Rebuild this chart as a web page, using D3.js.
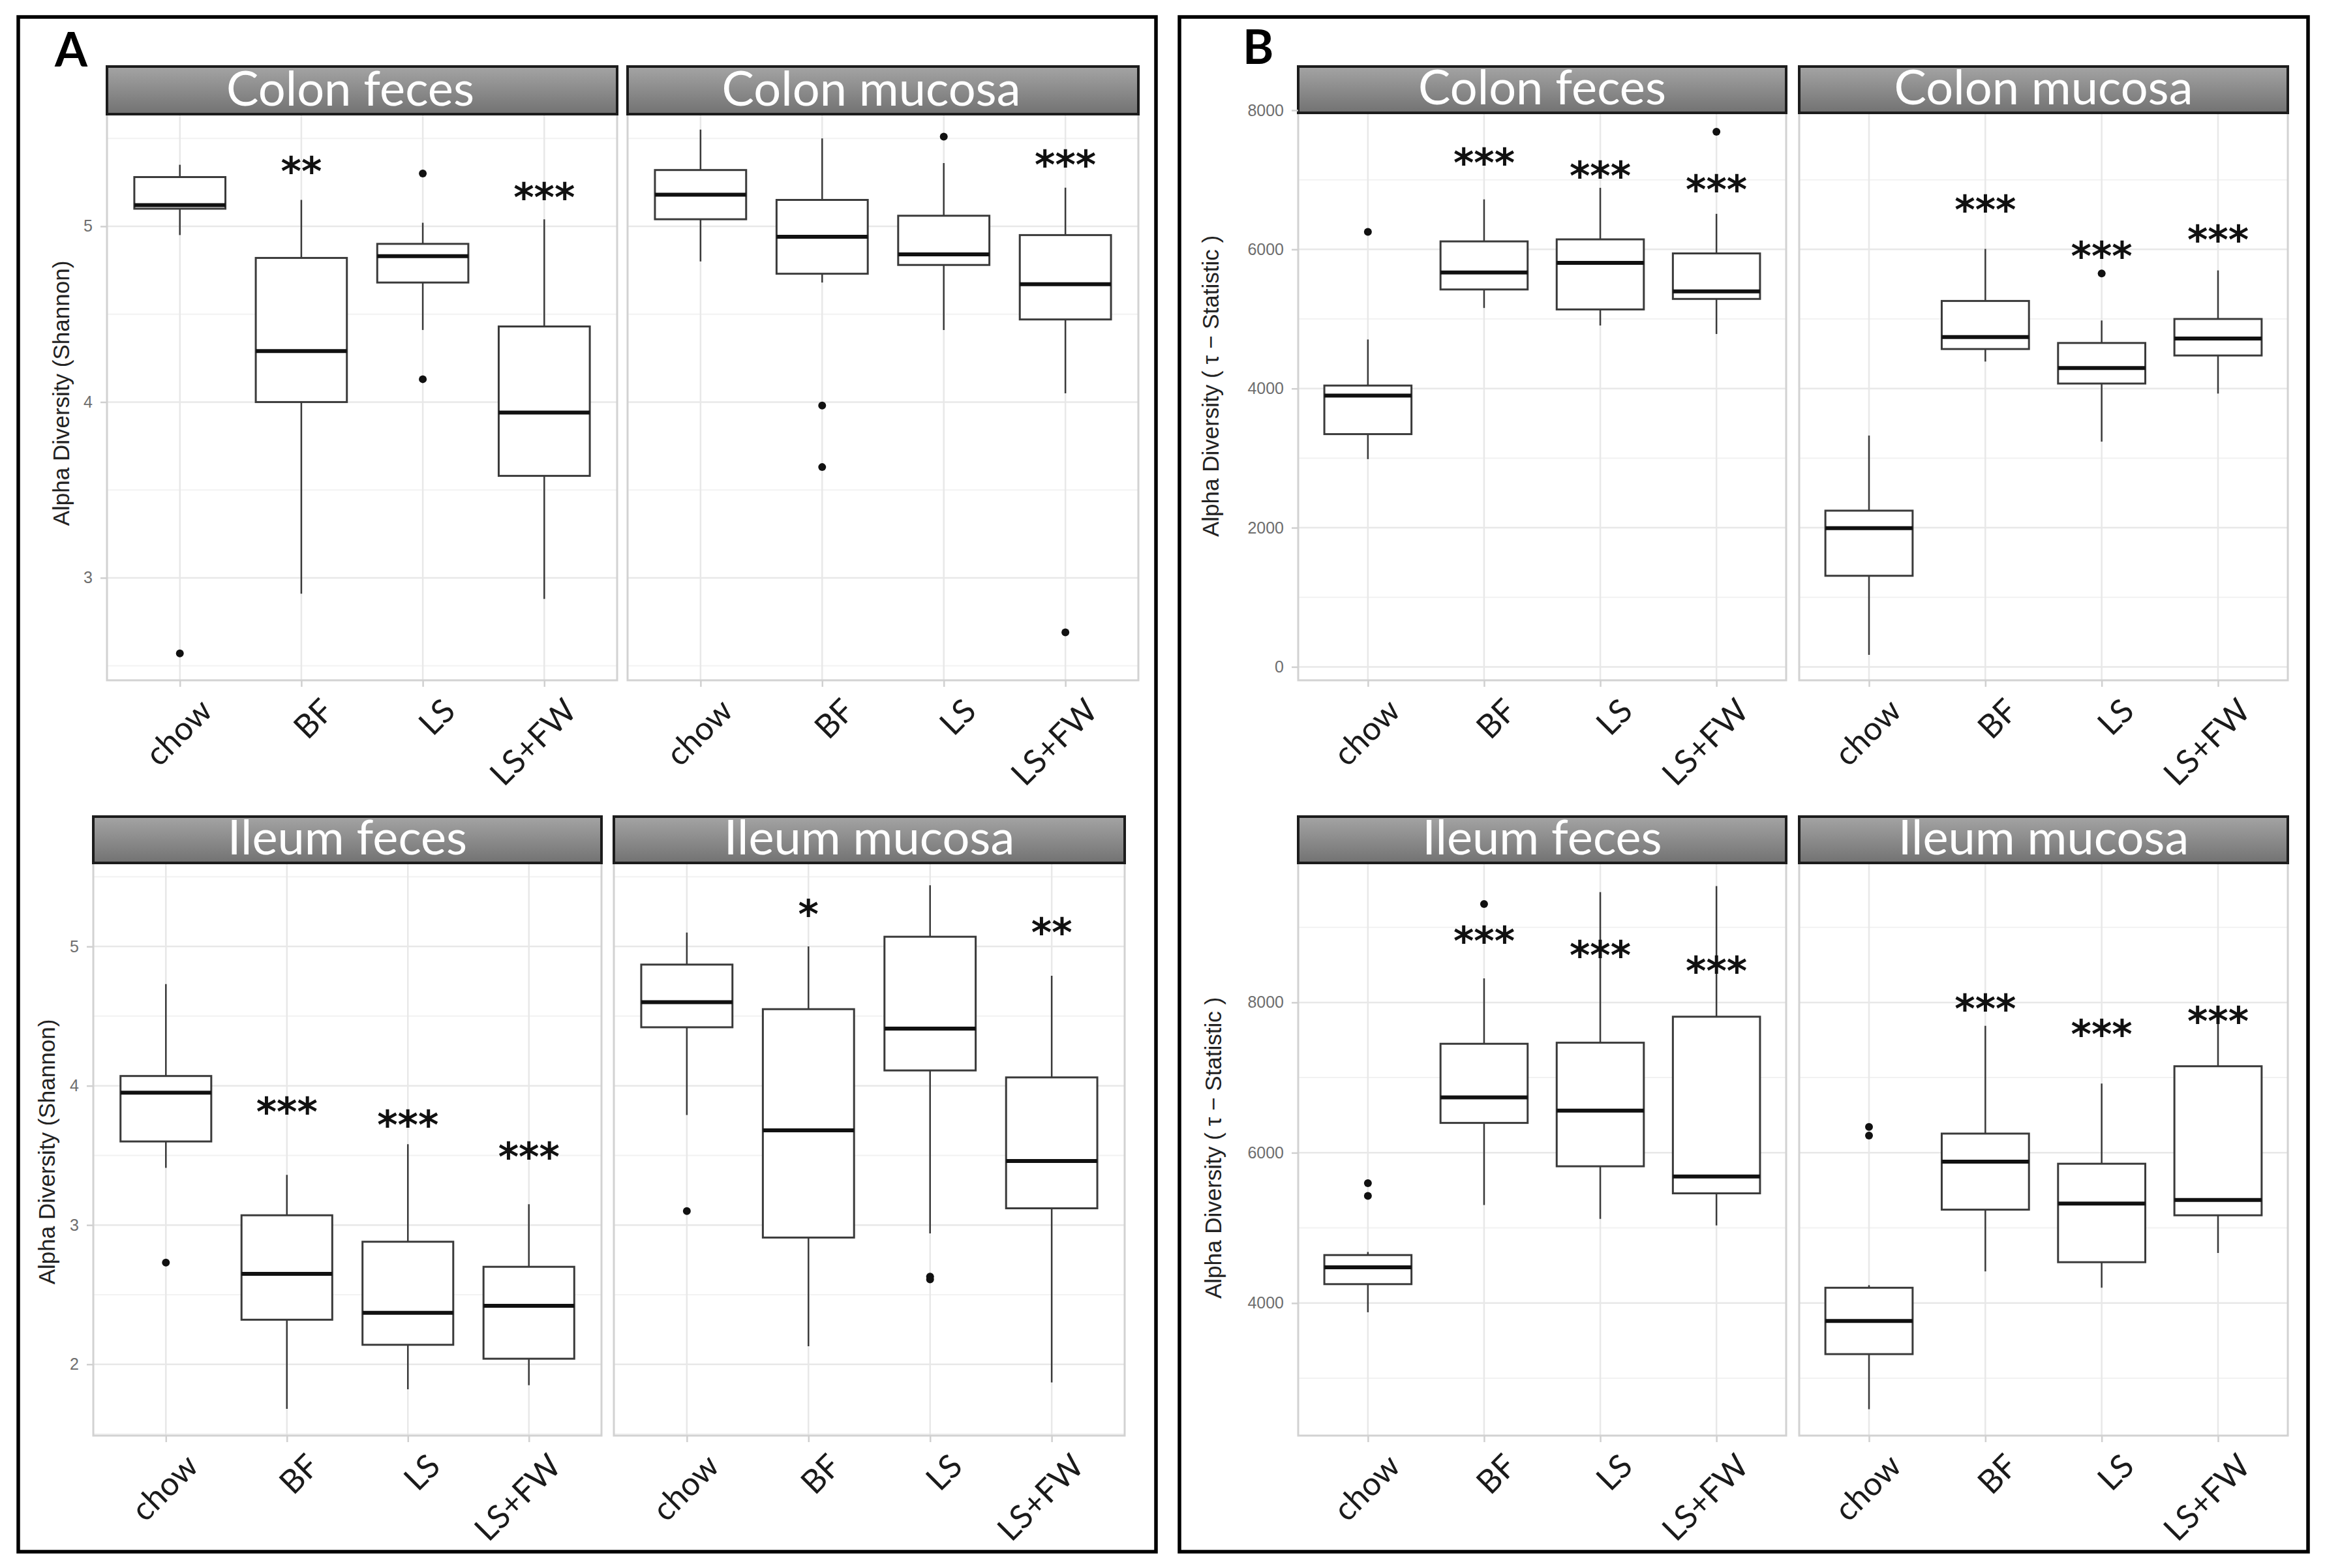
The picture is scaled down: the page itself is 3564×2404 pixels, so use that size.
<!DOCTYPE html>
<html>
<head>
<meta charset="utf-8">
<script src="https://cdn.jsdelivr.net/npm/d3@7"></script>
<style>
body { margin: 0; background: #fff; }
svg { display: block; }
</style>
</head>
<body>
<svg id="fig"></svg>
<script>
var groups = ["chow", "BF", "LS", "LS+FW"]

// boxes per group: [lower whisker, Q1, median, Q3, upper whisker]
// A: Shannon
var shColonFeces = [[4.95, 5.10, 5.12, 5.28, 5.35], [2.91, 4.00, 4.29, 4.82, 5.15], [4.41, 4.68, 4.83, 4.90, 5.02], [2.88, 3.58, 3.94, 4.43, 5.04]]
var shColonFecesOut = [[2.57], [], [5.30, 4.13], []]
var shColonFecesStars = ["", "**", "", "***"]
var shColonFecesStarAt = [null, 5.36, null, 5.21]

var shColonMucosa = [[4.80, 5.04, 5.18, 5.32, 5.55], [4.68, 4.73, 4.94, 5.15, 5.50], [4.41, 4.78, 4.84, 5.06, 5.36], [4.05, 4.47, 4.67, 4.95, 5.22]]
var shColonMucosaOut = [[], [3.98, 3.63], [5.51], [2.69]]
var shColonMucosaStars = ["", "", "", "***"]
var shColonMucosaStarAt = [null, null, null, 5.395]

var shIleumFeces = [[3.41, 3.60, 3.95, 4.07, 4.73], [1.68, 2.32, 2.65, 3.07, 3.36], [1.82, 2.14, 2.37, 2.88, 3.58], [1.85, 2.04, 2.42, 2.70, 3.15]]
var shIleumFecesOut = [[2.73], [], [], []]
var shIleumFecesStars = ["", "***", "***", "***"]
var shIleumFecesStarAt = [null, 3.87, 3.78, 3.55]

var shIleumMucosa = [[3.79, 4.42, 4.60, 4.87, 5.10], [2.13, 2.91, 3.68, 4.55, 5.00], [2.94, 4.11, 4.41, 5.07, 5.44], [1.87, 3.12, 3.46, 4.06, 4.79]]
var shIleumMucosaOut = [[3.10], [], [2.63, 2.61], []]
var shIleumMucosaStars = ["", "*", "", "**"]
var shIleumMucosaStarAt = [null, 5.29, null, 5.16]

// B: tau statistic
var tauColonFeces = [[2986, 3345, 3899, 4043, 4705], [5158, 5424, 5669, 6115, 6719], [4906, 5137, 5806, 6144, 6885], [4784, 5288, 5396, 5942, 6511]]
var tauColonFecesOut = [[6252], [], [], [7691]]
var tauColonFecesStars = ["", "***", "***", "***"]
var tauColonFecesStarAt = [null, 7367, 7173, 6978]

var tauColonMucosa = [[173, 1309, 1993, 2245, 3324], [4388, 4568, 4741, 5259, 6007], [3237, 4072, 4295, 4655, 4978], [3928, 4475, 4719, 5000, 5698]]
var tauColonMucosaOut = [[], [], [5655], []]
var tauColonMucosaStars = ["", "***", "***", "***"]
var tauColonMucosaStarAt = [null, 6683, 6022, 6259]

var tauIleumFeces = [[3878, 4252, 4476, 4639, 4680], [5304, 6397, 6737, 7450, 8319], [5121, 5820, 6560, 7464, 9467], [5033, 5460, 5685, 7810, 9548]]
var tauIleumFecesOut = [[5596, 5426], [9310], [], []]
var tauIleumFecesStars = ["", "***", "***", "***"]
var tauIleumFecesStarAt = [null, 8924, 8733, 8530]

var tauIleumMucosa = [[2588, 3321, 3763, 4204, 4238], [4422, 5243, 5882, 6255, 7688], [4204, 4544, 5325, 5854, 6920], [4666, 5168, 5372, 7151, 7722]]
var tauIleumMucosaOut = [[6343, 6228], [], [], []]
var tauIleumMucosaStars = ["", "***", "***", "***"]
var tauIleumMucosaStarAt = [null, 8027, 7688, 7857]

var shTicksTop = [3, 4, 5]
var shTicksBottom = [2, 3, 4, 5]
var tauTicksTop = [0, 2000, 4000, 6000, 8000]
var tauTicksBottom = [4000, 6000, 8000]

var shTitle = "Alpha Diversity (Shannon)"
var tauTitle = "Alpha Diversity  ( \u03C4 \u2212 Statistic )"

var W = 3564, H = 2404

var svg = d3.select("#fig")
	.attr("width", W)
	.attr("height", H)

var grad = svg.append("defs").append("linearGradient")
	.attr("id", "stripFill")
	.attr("x1", 0).attr("y1", 0).attr("x2", 0).attr("y2", 1)
grad.append("stop").attr("offset", "0%").attr("stop-color", "#a4a4a4")
grad.append("stop").attr("offset", "100%").attr("stop-color", "#727272")

// outer frames of A and B
svg.append("rect").attr("x", 28).attr("y", 26).attr("width", 1744).attr("height", 2353)
	.style("fill", "none").style("stroke", "#000").style("stroke-width", 5.5)
svg.append("rect").attr("x", 1808).attr("y", 26).attr("width", 1730).attr("height", 2353)
	.style("fill", "none").style("stroke", "#000").style("stroke-width", 5.5)

svg.append("text").attr("x", 84).attr("y", 102).text("A")
	.style("font-family", "Lato").style("font-weight", "bold").style("font-size", "72px")
svg.append("text").attr("x", 1905).attr("y", 98).text("B")
	.style("font-family", "Lato").style("font-weight", "bold").style("font-size", "72px")

var rows = [
	{
		facets: [
			{ name: "Colon feces", box: shColonFeces, out: shColonFecesOut, stars: shColonFecesStars, starAt: shColonFecesStarAt },
			{ name: "Colon mucosa", box: shColonMucosa, out: shColonMucosaOut, stars: shColonMucosaStars, starAt: shColonMucosaStarAt }
		],
		px: [[164, 946], [962, 1745]], py: [175, 1043], strip: [102, 175],
		domain: [2.417, 5.638], ticks: shTicksTop, title: shTitle, titleX: 94, titleY: 603, shift: -18
	},
	{
		facets: [
			{ name: "Ileum feces", box: shIleumFeces, out: shIleumFecesOut, stars: shIleumFecesStars, starAt: shIleumFecesStarAt },
			{ name: "Ileum mucosa", box: shIleumMucosa, out: shIleumMucosaOut, stars: shIleumMucosaStars, starAt: shIleumMucosaStarAt }
		],
		px: [[143, 922], [941, 1724]], py: [1323, 2201], strip: [1252, 1323],
		domain: [1.488, 5.60], ticks: shTicksBottom, title: shTitle, titleX: 72, titleY: 1766, shift: 0
	},
	{
		facets: [
			{ name: "Colon feces", box: tauColonFeces, out: tauColonFecesOut, stars: tauColonFecesStars, starAt: tauColonFecesStarAt },
			{ name: "Colon mucosa", box: tauColonMucosa, out: tauColonMucosaOut, stars: tauColonMucosaStars, starAt: tauColonMucosaStarAt }
		],
		px: [[1990, 2738], [2758, 3507]], py: [169, 1043], strip: [102, 173],
		domain: [-193, 8000], ticks: tauTicksTop, title: tauTitle, titleX: 1856, titleY: 592, shift: 0
	},
	{
		facets: [
			{ name: "Ileum feces", box: tauIleumFeces, out: tauIleumFecesOut, stars: tauIleumFecesStars, starAt: tauIleumFecesStarAt },
			{ name: "Ileum mucosa", box: tauIleumMucosa, out: tauIleumMucosaOut, stars: tauIleumMucosaStars, starAt: tauIleumMucosaStarAt }
		],
		px: [[1990, 2738], [2758, 3507]], py: [1323, 2201], strip: [1252, 1323],
		domain: [2237, 9856], ticks: tauTicksBottom, title: tauTitle, titleX: 1860, titleY: 1760, shift: 0
	}
]

rows.forEach(function (row) {
	var yScale = d3.scaleLinear().domain(row.domain).range([row.py[1], row.py[0]])
	var step = row.ticks[1] - row.ticks[0]
	var minor = []
	for (var v = row.ticks[0] - step / 2; v <= row.domain[1]; v += step) {
		if (v >= row.domain[0]) minor.push(v)
	}
	var major = row.ticks.filter(d => d >= row.domain[0] && d <= row.domain[1])

	row.facets.forEach(function (f, j) {
		var xScale = d3.scalePoint().domain(groups).range(row.px[j]).padding(0.6)
		var bw = xScale.step() * 0.75
		var x0 = row.px[j][0], x1 = row.px[j][1]
		var g = svg.append("g")

		g.append("rect").attr("x", x0).attr("y", row.py[0]).attr("width", x1 - x0).attr("height", row.py[1] - row.py[0])
			.style("fill", "#fff")

		g.selectAll(".minor").data(minor).enter().append("line")
			.attr("x1", x0).attr("x2", x1)
			.attr("y1", d => yScale(d)).attr("y2", d => yScale(d))
			.style("stroke", "#f2f2f2").style("stroke-width", 2)
		g.selectAll(".major").data(major).enter().append("line")
			.attr("x1", x0).attr("x2", x1)
			.attr("y1", d => yScale(d)).attr("y2", d => yScale(d))
			.style("stroke", "#e8e8e8").style("stroke-width", 2.5)
		g.selectAll(".vgrid").data(groups).enter().append("line")
			.attr("x1", d => xScale(d)).attr("x2", d => xScale(d))
			.attr("y1", row.py[0]).attr("y2", row.py[1])
			.style("stroke", "#e8e8e8").style("stroke-width", 2.5)

		// whiskers
		g.selectAll(".whisk").data(f.box).enter().append("line")
			.attr("x1", (d, i) => xScale(groups[i])).attr("x2", (d, i) => xScale(groups[i]))
			.attr("y1", d => yScale(d[0])).attr("y2", d => yScale(d[4]))
			.style("stroke", "#3a3a3a").style("stroke-width", 2.5)
		// boxes
		g.selectAll(".box").data(f.box).enter().append("rect")
			.attr("x", (d, i) => xScale(groups[i]) - bw / 2)
			.attr("width", bw)
			.attr("y", d => yScale(d[3]))
			.attr("height", d => yScale(d[1]) - yScale(d[3]))
			.style("fill", "#fff").style("stroke", "#3a3a3a").style("stroke-width", 3)
		// medians
		g.selectAll(".med").data(f.box).enter().append("line")
			.attr("x1", (d, i) => xScale(groups[i]) - bw / 2).attr("x2", (d, i) => xScale(groups[i]) + bw / 2)
			.attr("y1", d => yScale(d[2])).attr("y2", d => yScale(d[2]))
			.style("stroke", "#111").style("stroke-width", 6)
		// outliers
		f.out.forEach(function (pts, i) {
			g.selectAll(".o" + i).data(pts).enter().append("circle")
				.attr("cx", xScale(groups[i])).attr("cy", d => yScale(d)).attr("r", 6)
				.style("fill", "#111")
		})
		// significance stars
		f.stars.forEach(function (s, i) {
			if (!s) return
			g.append("text")
				.attr("x", xScale(groups[i]))
				.attr("y", yScale(f.starAt[i]) + 34)
				.attr("text-anchor", "middle")
				.text(s)
				.style("font-family", "DejaVu Sans").style("font-weight", "bold")
				.style("font-size", "60px").style("fill", "#111")
		})

		g.append("rect").attr("x", x0).attr("y", row.py[0]).attr("width", x1 - x0).attr("height", row.py[1] - row.py[0])
			.style("fill", "none").style("stroke", "#d2d2d2").style("stroke-width", 3)

		// strip
		g.append("rect").attr("x", x0).attr("y", row.strip[0]).attr("width", x1 - x0).attr("height", row.strip[1] - row.strip[0])
			.style("fill", "url(#stripFill)").style("stroke", "#1c1c1c").style("stroke-width", 4)
		g.append("text")
			.attr("x", (x0 + x1) / 2 + row.shift)
			.attr("y", row.strip[1] - 13)
			.attr("text-anchor", "middle")
			.text(f.name)
			.style("font-family", "Lato").style("font-size", "74px").style("fill", "#fff")

		// x axis
		var xAxis = g.append("g")
			.attr("transform", "translate(0," + row.py[1] + ")")
			.call(d3.axisBottom(xScale).tickSize(10))
		xAxis.select(".domain").remove()
		xAxis.selectAll("line").style("stroke", "#d0d0d0").style("stroke-width", 2.5)
		xAxis.selectAll("text")
			.attr("x", 0).attr("y", 0).attr("dy", null)
			.attr("transform", "translate(52,50) rotate(-45)")
			.attr("text-anchor", "end")
			.style("font-family", "Lato").style("font-size", "50px").style("fill", "#1a1a1a")

		if (j == 0) {
			var yAxis = g.append("g")
				.attr("transform", "translate(" + x0 + ",0)")
				.call(d3.axisLeft(yScale).tickValues(row.ticks).tickFormat(d3.format("d")).tickSize(10).tickPadding(12))
			yAxis.select(".domain").remove()
			yAxis.selectAll("line").style("stroke", "#d0d0d0").style("stroke-width", 2.5)
			yAxis.selectAll("text")
				.style("font-family", "Liberation Sans").style("font-size", "25px").style("fill", "#6e6e6e")
		}
	})

	svg.append("text")
		.attr("transform", "translate(" + row.titleX + "," + row.titleY + ") rotate(-90)")
		.attr("text-anchor", "middle")
		.attr("dy", "0.35em")
		.text(row.title)
		.style("font-family", "Liberation Sans").style("font-size", "35px").style("fill", "#222")
})
</script>
</body>
</html>
